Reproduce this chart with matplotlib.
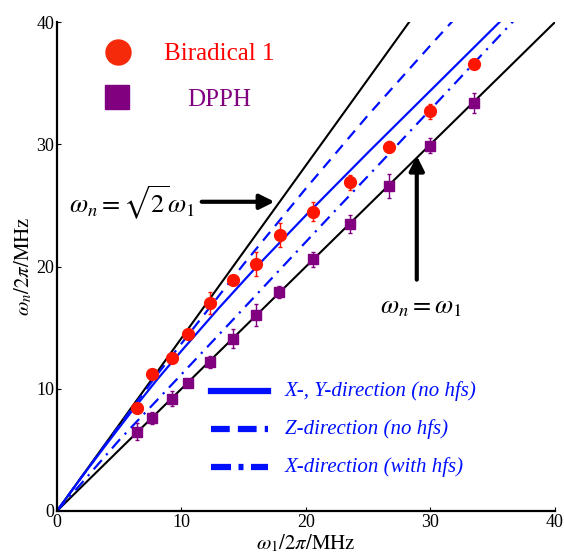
import numpy as np
import matplotlib
matplotlib.use("Agg")
import matplotlib.pyplot as plt
from matplotlib.lines import Line2D

plt.rcParams['font.family'] = ['Liberation Serif', 'DejaVu Serif']
plt.rcParams['mathtext.fontset'] = 'stix'

# measured points (omega_1, omega_n) in MHz
bir_x = [6.4, 7.6, 9.2, 10.5, 12.3, 14.1, 16.0, 17.9, 20.6, 23.5, 26.7, 30.0, 33.5]
bir_y = [8.4, 11.2, 12.5, 14.5, 17.0, 18.9, 20.2, 22.6, 24.5, 26.9, 29.8, 32.7, 36.6]
bir_err = [0.2, 0.2, 0.2, 0.2, 0.9, 0.2, 1.0, 1.0, 0.8, 0.6, 0.45, 0.6, 0.2]

dpph_x = [6.4, 7.6, 9.2, 10.5, 12.3, 14.1, 16.0, 17.8, 20.6, 23.5, 26.7, 30.0, 33.5]
dpph_y = [6.5, 7.6, 9.2, 10.5, 12.2, 14.1, 16.0, 17.9, 20.6, 23.5, 26.6, 29.9, 33.4]
dpph_err = [0.7, 0.5, 0.6, 0.3, 0.5, 0.8, 0.9, 0.5, 0.6, 0.75, 1.0, 0.6, 0.8]

# theory curves
xy_x = [0, 2, 4, 6, 8, 10, 13, 16, 20, 25, 30, 35, 40]
xy_y = [0, 2.8, 5.5, 8.15, 10.7, 13.1, 16.6, 19.95, 24.2, 29.35, 34.4, 39.45, 44.5]
z_x = [0, 4, 8, 11, 15, 20, 25, 30, 35, 40]
z_y = [0, 5.6, 11.1, 15.0, 20.2, 26.4, 32.4, 38.1, 43.7, 49.2]
xh_x = [0, 2, 5, 9, 14, 18, 22, 26, 30, 34, 40]
xh_y = [0, 2.3, 5.8, 10.1, 15.5, 19.85, 24.2, 28.5, 32.85, 37.2, 43.7]

w1 = np.array([0, 40])

fig = plt.figure(figsize=(5.64, 5.53), dpi=100)
ax = fig.add_axes([0.101, 0.076, 0.883, 0.884])

ax.plot(w1, w1, color='k', lw=1.5)
ax.plot(w1, np.sqrt(2) * w1, color='k', lw=1.5)
ax.plot(xy_x, xy_y, color='#0010ff', lw=1.6, ls='-')
ax.plot(z_x, z_y, color='#0010ff', lw=1.6, ls=(0, (5, 3.5)))
ax.plot(xh_x, xh_y, color='#0010ff', lw=1.6, ls=(0, (5.5, 3, 1, 3)))

ax.errorbar(bir_x, bir_y, yerr=bir_err, fmt='o', color='#ff1500', ms=8.5,
            elinewidth=1, capsize=1.5, zorder=5)
ax.errorbar(dpph_x, dpph_y, yerr=dpph_err, fmt='s', color='#800080', ms=6.5,
            elinewidth=1, capsize=1.5, zorder=5)

ax.set_xlim(0, 40)
ax.set_ylim(0, 40)
ax.set_xticks([0, 10, 20, 30, 40])
ax.set_yticks([0, 10, 20, 30, 40])
ax.tick_params(direction='in', length=3, labelsize=13, pad=2)
for s in ['top', 'right']:
    ax.spines[s].set_visible(False)
for s in ['left', 'bottom']:
    ax.spines[s].set_linewidth(1.6)

ax.set_xlabel(r'$\omega_1/2\pi/\mathrm{MHz}$', fontsize=15, labelpad=1)
ax.set_ylabel(r'$\omega_n/2\pi/\mathrm{MHz}$', fontsize=15, labelpad=1)

# marker legend
ax.plot([0.122], [0.939], 'o', color='#f52a0a', ms=18, transform=ax.transAxes, clip_on=False)
ax.plot([0.120], [0.847], 's', color='#800080', ms=17, transform=ax.transAxes, clip_on=False)
ax.text(0.325, 0.935, 'Biradical 1', color='#ff0000', fontsize=18, ha='center', va='center',
        transform=ax.transAxes)
ax.text(0.325, 0.84, 'DPPH', color='#800080', fontsize=18, ha='center', va='center',
        transform=ax.transAxes)

# line legend
leg_labels = ['X-, Y-direction (no hfs)', 'Z-direction (no hfs)', 'X-direction (with hfs)']
leg_styles = ['-', (0, (3.0, 1.3)), (0, (3.2, 1.2, 0.8, 1.2))]
leg_y = [0.245, 0.168, 0.090]
for lab, st, yy in zip(leg_labels, leg_styles, leg_y):
    ax.add_line(Line2D([0.309, 0.424], [yy, yy], color='#0010ff', lw=4.5, ls=st,
                       transform=ax.transAxes))
    ax.text(0.458, yy, lab, color='#0010ff', fontsize=15, style='italic', va='center',
            transform=ax.transAxes)

# annotations
ax.annotate('', xy=(17.7, 25.3), xytext=(11.4, 25.3),
            arrowprops=dict(arrowstyle='-|>', color='k', lw=3, mutation_scale=22))
ax.text(11.1, 25.2, r'$\omega_n = \sqrt{2}\omega_1$', fontsize=19, ha='right', va='center')
ax.annotate('', xy=(28.9, 29.3), xytext=(28.9, 18.7),
            arrowprops=dict(arrowstyle='-|>', color='k', lw=3, mutation_scale=22))
ax.text(29.2, 16.6, r'$\omega_n = \omega_1$', fontsize=19, ha='center', va='center')

fig.savefig('out.png', dpi=100)
